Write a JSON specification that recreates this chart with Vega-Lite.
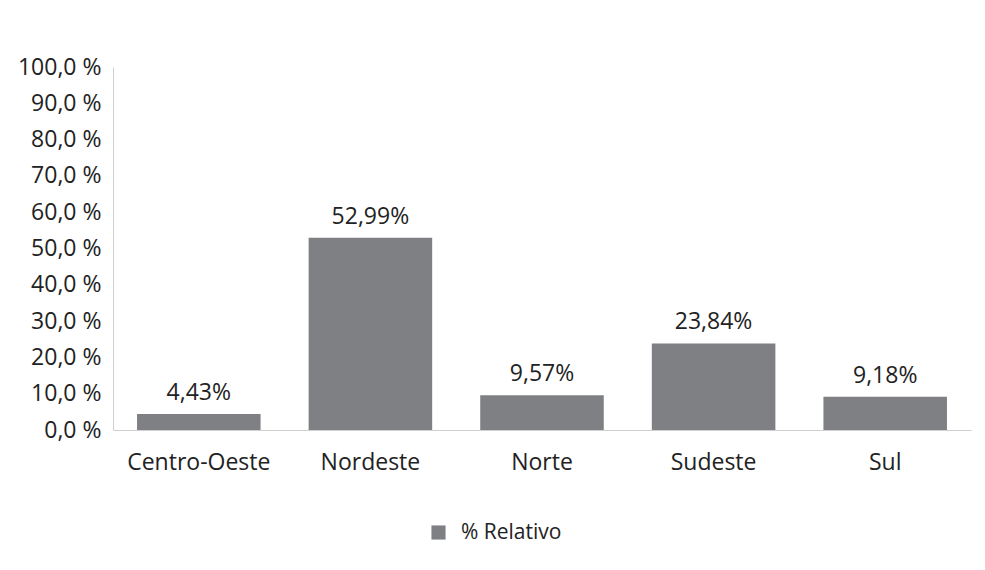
{
  "$schema": "https://vega.github.io/schema/vega-lite/v6.json",
  "width": 858,
  "height": 363,
  "autosize": {"type": "none"},
  "padding": {"left": 113, "top": 67, "right": 14, "bottom": 140},
  "background": "white",
  "data": {"values": [
    {"regiao": "Centro-Oeste", "valor": 4.43, "rotulo": "4,43%", "serie": "% Relativo"},
    {"regiao": "Nordeste", "valor": 52.99, "rotulo": "52,99%", "serie": "% Relativo"},
    {"regiao": "Norte", "valor": 9.57, "rotulo": "9,57%", "serie": "% Relativo"},
    {"regiao": "Sudeste", "valor": 23.84, "rotulo": "23,84%", "serie": "% Relativo"},
    {"regiao": "Sul", "valor": 9.18, "rotulo": "9,18%", "serie": "% Relativo"}
  ]},
  "encoding": {
    "x": {"field": "regiao", "type": "nominal", "sort": null,
      "scale": {"paddingInner": 0.28, "paddingOuter": 0.14},
      "axis": {"title": null, "labelAngle": 0, "ticks": false, "domainColor": "#d0d0d0", "labelPadding": 21, "labelFontSize": 23, "labelColor": "#222222", "labelFont": "Open Sans"}},
    "y": {"field": "valor", "type": "quantitative",
      "scale": {"domain": [0, 100]},
      "axis": {"title": null, "grid": false, "ticks": false, "values": [0,10,20,30,40,50,60,70,80,90,100], "labelOverlap": false, "domainColor": "#d0d0d0", "labelPadding": 12, "labelFontSize": 23, "labelColor": "#222222", "labelFont": "Open Sans",
        "labelExpr": "replace(format(datum.value, '.1f'), '.', ',') + ' %'"}}
  },
  "layer": [
    {"mark": {"type": "bar", "color": "#7f8084"},
     "encoding": {"color": {"field": "serie", "type": "nominal", "scale": {"range": ["#7f8084"]},
       "legend": {"title": null, "orient": "none", "legendX": 315, "legendY": 455, "symbolType": "square", "symbolSize": 200, "symbolStrokeWidth": 0, "labelFontSize": 21, "labelFont": "Open Sans", "labelColor": "#222222", "labelOffset": 12}}}},
    {"mark": {"type": "text", "baseline": "bottom", "dy": -9, "fontSize": 23, "font": "Open Sans", "color": "#222222"},
     "encoding": {"text": {"field": "rotulo"}}}
  ],
  "config": {"view": {"stroke": null}}
}
